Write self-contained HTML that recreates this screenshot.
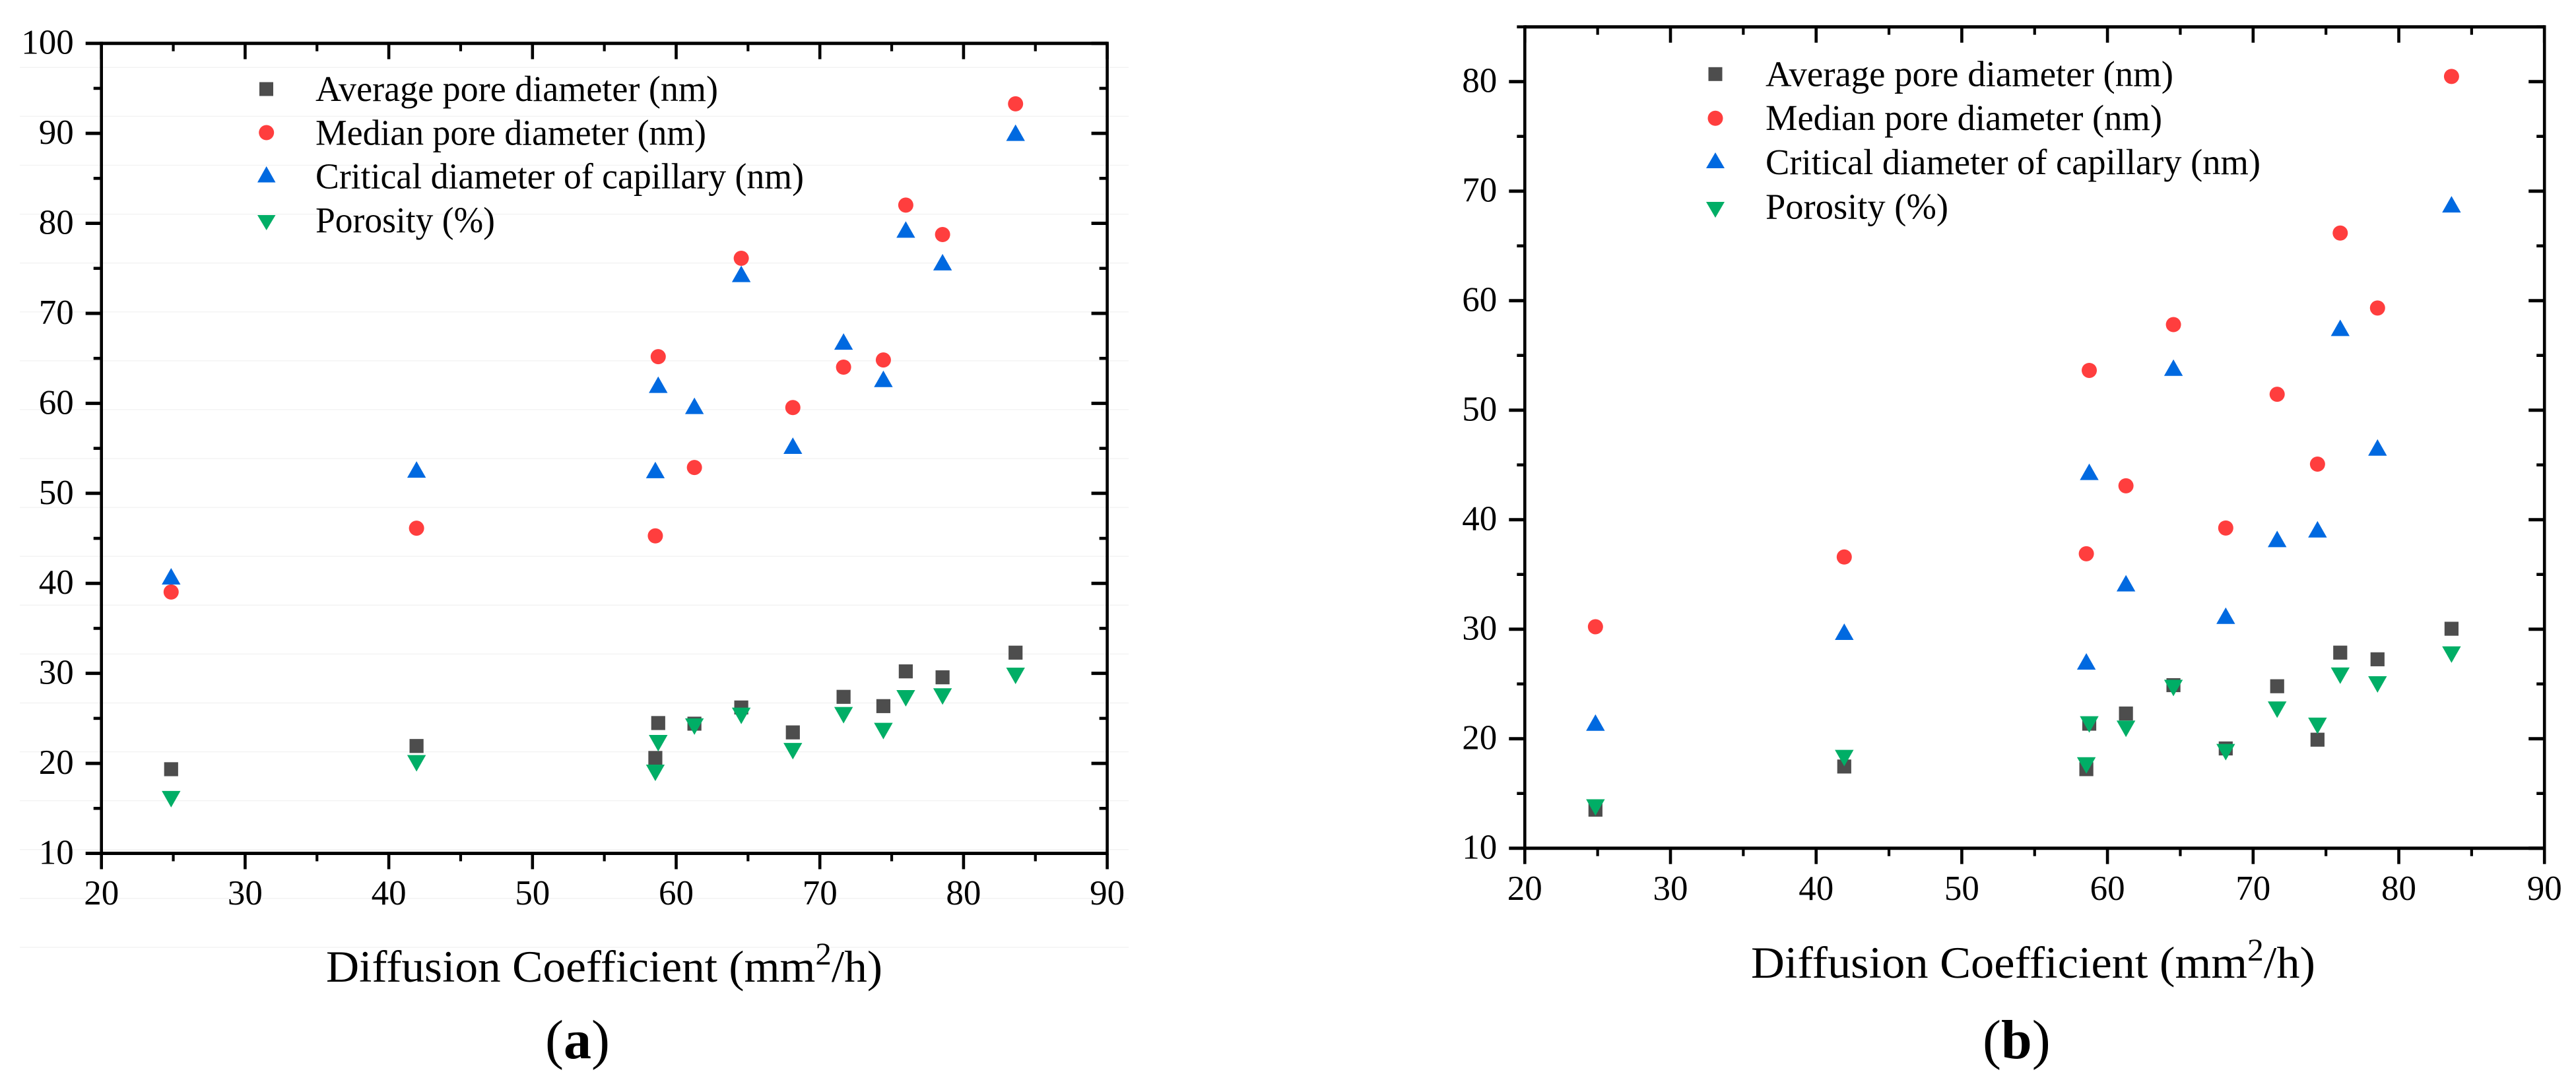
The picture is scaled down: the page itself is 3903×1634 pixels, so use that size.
<!DOCTYPE html>
<html lang="en">
<head>
<meta charset="utf-8">
<title>Diffusion coefficient vs pore structure</title>
<style>
html,body{margin:0;padding:0;background:#fff;width:3903px;height:1634px;overflow:hidden}
svg{display:block}
text{font-family:"Liberation Serif","Times New Roman",serif;fill:#000}
.leg{font-size:55px}
.tick{font-size:53px}
.title{font-size:68px}
.cap{font-size:84px}
</style>
</head>
<body>
<svg id="figure" xmlns="http://www.w3.org/2000/svg" width="3903" height="1634" viewBox="0 0 3903 1634">
  <rect width="3903" height="1634" fill="#ffffff"/>
  <g id="faint-rules"></g>
  <g id="panel-a"></g>
  <g id="panel-b"></g>

  <g>
    <rect x="393" y="124.5" width="21" height="21" fill="#4d4d4d"/>
    <circle cx="403.7" cy="201" r="11.5" fill="#ff3e3e"/>
    <polygon points="403.7,252 417.5,276.5 390,276.5" fill="#0069e0"/>
    <polygon points="390,326 417.5,326 403.7,349" fill="#00ae66"/>
    <text class="leg" x="478" y="153" textLength="610" lengthAdjust="spacingAndGlyphs">Average pore diameter (nm)</text>
    <text class="leg" x="478" y="219.5" textLength="592" lengthAdjust="spacingAndGlyphs">Median pore diameter (nm)</text>
    <text class="leg" x="478" y="285.6" textLength="740" lengthAdjust="spacingAndGlyphs">Critical diameter of capillary (nm)</text>
    <text class="leg" x="478" y="352" textLength="272" lengthAdjust="spacingAndGlyphs">Porosity (%)</text>
  </g>

  <g>
    <rect x="2588.5" y="101.8" width="21" height="21" fill="#4d4d4d"/>
    <circle cx="2599" cy="179.3" r="11.5" fill="#ff3e3e"/>
    <polygon points="2599,231 2613,255 2585,255" fill="#0069e0"/>
    <polygon points="2585,306 2613,306 2599,330" fill="#00ae66"/>
    <text class="leg" x="2675" y="130.7" textLength="618" lengthAdjust="spacingAndGlyphs">Average pore diameter (nm)</text>
    <text class="leg" x="2675" y="197" textLength="601" lengthAdjust="spacingAndGlyphs">Median pore diameter (nm)</text>
    <text class="leg" x="2675" y="264" textLength="750" lengthAdjust="spacingAndGlyphs">Critical diameter of capillary (nm)</text>
    <text class="leg" x="2675" y="331.7" textLength="277" lengthAdjust="spacingAndGlyphs">Porosity (%)</text>
  </g>

  <text class="title" x="494" y="1488" textLength="843" lengthAdjust="spacingAndGlyphs">Diffusion Coefficient (mm<tspan font-size="48" dy="-26">2</tspan><tspan dy="26">/h)</tspan></text>
  <text class="title" x="2653" y="1482" textLength="855" lengthAdjust="spacingAndGlyphs">Diffusion Coefficient (mm<tspan font-size="48" dy="-26">2</tspan><tspan dy="26">/h)</tspan></text>

  <text class="cap" x="826" y="1604">(<tspan font-weight="bold">a</tspan>)</text>
  <text class="cap" x="3004" y="1604">(<tspan font-weight="bold">b</tspan>)</text>
</svg>

<script>
var diffusion = [24.85, 41.93, 58.55, 58.75, 61.27, 64.53, 68.12, 71.65, 74.42, 75.98, 78.54, 83.62];

var averageA  = [19.35, 21.93, 20.6, 24.48, 24.41, 26.21, 23.44, 27.39, 26.36, 30.22, 29.56, 32.3];
var medianA   = [39.04, 46.13, 45.28, 65.19, 52.87, 76.12, 59.53, 64.02, 64.82, 82.03, 78.76, 93.28];
var criticalA = [40.79, 52.65, 52.6, 62.07, 59.73, 74.39, 55.3, 66.87, 62.72, 79.32, 75.69, 90.07];
var porosityA = [16.02, 20.01, 18.94, 22.24, 24.08, 25.27, 21.35, 25.35, 23.59, 27.23, 27.43, 29.72];

var averageB  = [13.52, 17.46, 17.22, 21.37, 22.3, 24.89, 19.11, 24.79, 19.91, 27.86, 27.25, 30.04];
var medianB   = [30.22, 36.59, 36.89, 53.63, 43.09, 57.81, 39.24, 51.45, 45.07, 66.17, 59.33, 80.47];
var criticalB = [21.47, 29.77, 27.06, 44.37, 34.2, 53.88, 31.23, 38.24, 39.12, 57.52, 46.59, 68.8];
var porosityB = [13.72, 18.23, 17.56, 21.3, 20.9, 24.63, 18.77, 22.65, 21.17, 25.75, 24.95, 27.68];

var xTicks = [20, 30, 40, 50, 60, 70, 80, 90];
var xMinorTicks = [25, 35, 45, 55, 65, 75, 85];
var yTicksA = [10, 20, 30, 40, 50, 60, 70, 80, 90, 100];
var yMinorTicksA = [15, 25, 35, 45, 55, 65, 75, 85, 95];
var yTicksB = [10, 20, 30, 40, 50, 60, 70, 80];
var yMinorTicksB = [15, 25, 35, 45, 55, 65, 75, 85];

var NS = 'http://www.w3.org/2000/svg';

function make(parent, tag, attrs, name) {
  var el = document.createElementNS(NS, tag);
  for (var k in attrs) { el.setAttribute(k, attrs[k]); }
  
  
  parent.appendChild(el);
  return el;
}

function linear(d0, d1, r0, r1) {
  return function (v) { return r0 + (v - d0) * (r1 - r0) / (d1 - d0); };
}

function drawPanel(cfg) {
  var g = document.getElementById(cfg.id);
  var xs = linear(cfg.xMin, cfg.xMax, cfg.left, cfg.right);
  var ys = linear(cfg.yMin, cfg.yMax, cfg.bottom, cfg.top);
  var left = xs(cfg.xMin), right = xs(cfg.xMax), top = ys(cfg.yMax), bottom = ys(cfg.yMin);

  function markers(values, draw) {
    for (var i = 0; i < diffusion.length; i++) { draw(xs(diffusion[i]), ys(values[i])); }
  }
  var S = 10.6, TW = 14.2, TH = 12.5;
  markers(cfg.average, function (x, y) {
    make(g, 'rect', {x: x - S, y: y - S, width: 2 * S, height: 2 * S, fill: '#4d4d4d'}, 'average-pore-diameter-point');
  });
  markers(cfg.median, function (x, y) {
    make(g, 'circle', {cx: x, cy: y, r: 11.5, fill: '#ff3e3e'}, 'median-pore-diameter-point');
  });
  markers(cfg.critical, function (x, y) {
    make(g, 'polygon', {points: x + ',' + (y - TH) + ' ' + (x + TW) + ',' + (y + TH) + ' ' + (x - TW) + ',' + (y + TH), fill: '#0069e0'}, 'critical-diameter-point');
  });
  markers(cfg.porosity, function (x, y) {
    make(g, 'polygon', {points: (x - TW) + ',' + (y - TH) + ' ' + (x + TW) + ',' + (y - TH) + ' ' + x + ',' + (y + TH), fill: '#00ae66'}, 'porosity-point');
  });

  function line(x1, y1, x2, y2, w, name) {
    make(g, 'line', {x1: x1, y1: y1, x2: x2, y2: y2, stroke: '#000', 'stroke-width': w}, name);
  }
  var MAJ = 24, MIN = 12;
  xTicks.forEach(function (t) {
    var x = xs(t);
    line(x, bottom, x, bottom + MAJ, 4.6, 'x-tick-major');
    line(x, top, x, top + MAJ, 4.6, 'top-tick-major');
    var lab = make(g, 'text', {x: x, y: cfg.xLabelY, 'text-anchor': 'middle', 'class': 'tick'}, 'x-tick-label');
    lab.textContent = t;
  });
  xMinorTicks.forEach(function (t) {
    var x = xs(t);
    line(x, bottom, x, bottom + MIN, 4.2, 'x-tick-minor');
    line(x, top, x, top + MIN, 4.2, 'top-tick-minor');
  });
  cfg.yTicks.forEach(function (t) {
    var y = ys(t);
    line(left - MAJ, y, left, y, 5, 'y-tick-major');
    line(right - MAJ, y, right, y, 5, 'right-tick-major');
    var lab = make(g, 'text', {x: left - 42, y: y + 16, 'text-anchor': 'end', 'class': 'tick'}, 'y-tick-label');
    lab.textContent = t;
  });
  cfg.yMinor.forEach(function (t) {
    var y = ys(t);
    line(left - MIN, y, left, y, 4.6, 'y-tick-minor');
    line(right - MIN, y, right, y, 4.6, 'right-tick-minor');
  });
  line(left, top - 2.5, left, bottom + 2.5, 4.6, 'y-axis-line');
  line(right, top - 2.5, right, bottom + 2.5, 4.6, 'right-axis-line');
  line(left, top, right, top, 5, 'top-axis-line');
  line(left, bottom, right, bottom, 5, 'x-axis-line');
}

/* faint horizontal scan rules behind panel (a) */
var rules = document.getElementById('faint-rules');
for (var r = 0; r < 19; r++) {
  make(rules, 'line', {x1: 30, x2: 1710, y1: 102.3 + 74.09 * r, y2: 102.3 + 74.09 * r, stroke: '#f3f3f3', 'stroke-width': 1.5}, 'faint-rule');
}

drawPanel({
  id: 'panel-a', xMin: 20, xMax: 90, yMin: 10, yMax: 100,
  left: 153.7, right: 1677.6, top: 65.7, bottom: 1293.5, xLabelY: 1371,
  yTicks: yTicksA, yMinor: yMinorTicksA,
  average: averageA, median: medianA, critical: criticalA, porosity: porosityA
});
drawPanel({
  id: 'panel-b', xMin: 20, xMax: 90, yMin: 10, yMax: 85,
  left: 2310.3, right: 3855.2, top: 40.7, bottom: 1285.7, xLabelY: 1364,
  yTicks: yTicksB, yMinor: yMinorTicksB,
  average: averageB, median: medianB, critical: criticalB, porosity: porosityB
});
</script>
</body>
</html>
